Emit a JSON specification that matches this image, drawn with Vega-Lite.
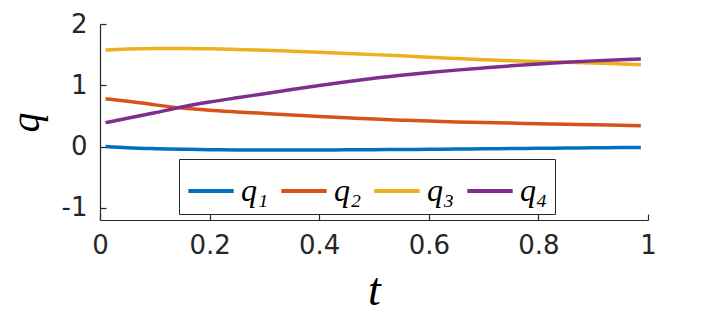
{
  "$schema": "https://vega.github.io/schema/vega-lite/v6.json",
  "width": 548,
  "height": 196,
  "autosize": {"type": "none"},
  "padding": {"left": 100, "top": 24, "right": 66, "bottom": 100},
  "background": "white",
  "config": {
    "view": {"stroke": null},
    "axis": {
      "grid": false,
      "domainColor": "#262626",
      "domainWidth": 1.2,
      "tickColor": "#262626",
      "tickWidth": 1.2,
      "tickSize": -6,
      "labelColor": "#262626",
      "labelFont": "DejaVu Sans",
      "labelFontSize": 26,
      "titleColor": "#000000",
      "titleFont": "Liberation Serif",
      "titleFontStyle": "italic",
      "titleFontWeight": "normal",
      "titleFontSize": 46
    }
  },
  "data": {
    "values": [
      {"t": 0.01, "q": 0.0, "s": "q1"},
      {"t": 0.05, "q": -0.02, "s": "q1"},
      {"t": 0.1, "q": -0.035, "s": "q1"},
      {"t": 0.15, "q": -0.045, "s": "q1"},
      {"t": 0.2, "q": -0.052, "s": "q1"},
      {"t": 0.25, "q": -0.056, "s": "q1"},
      {"t": 0.3, "q": -0.058, "s": "q1"},
      {"t": 0.35, "q": -0.058, "s": "q1"},
      {"t": 0.4, "q": -0.057, "s": "q1"},
      {"t": 0.45, "q": -0.055, "s": "q1"},
      {"t": 0.5, "q": -0.052, "s": "q1"},
      {"t": 0.55, "q": -0.049, "s": "q1"},
      {"t": 0.6, "q": -0.045, "s": "q1"},
      {"t": 0.65, "q": -0.041, "s": "q1"},
      {"t": 0.7, "q": -0.037, "s": "q1"},
      {"t": 0.75, "q": -0.033, "s": "q1"},
      {"t": 0.8, "q": -0.029, "s": "q1"},
      {"t": 0.85, "q": -0.025, "s": "q1"},
      {"t": 0.9, "q": -0.021, "s": "q1"},
      {"t": 0.95, "q": -0.018, "s": "q1"},
      {"t": 0.987, "q": -0.016, "s": "q1"},
      {"t": 0.01, "q": 0.78, "s": "q2"},
      {"t": 0.05, "q": 0.74, "s": "q2"},
      {"t": 0.1, "q": 0.68, "s": "q2"},
      {"t": 0.15, "q": 0.628, "s": "q2"},
      {"t": 0.2, "q": 0.592, "s": "q2"},
      {"t": 0.25, "q": 0.565, "s": "q2"},
      {"t": 0.3, "q": 0.54, "s": "q2"},
      {"t": 0.35, "q": 0.515, "s": "q2"},
      {"t": 0.4, "q": 0.49, "s": "q2"},
      {"t": 0.45, "q": 0.468, "s": "q2"},
      {"t": 0.5, "q": 0.447, "s": "q2"},
      {"t": 0.55, "q": 0.43, "s": "q2"},
      {"t": 0.6, "q": 0.415, "s": "q2"},
      {"t": 0.65, "q": 0.402, "s": "q2"},
      {"t": 0.7, "q": 0.392, "s": "q2"},
      {"t": 0.75, "q": 0.382, "s": "q2"},
      {"t": 0.8, "q": 0.372, "s": "q2"},
      {"t": 0.85, "q": 0.363, "s": "q2"},
      {"t": 0.9, "q": 0.355, "s": "q2"},
      {"t": 0.95, "q": 0.347, "s": "q2"},
      {"t": 0.987, "q": 0.34, "s": "q2"},
      {"t": 0.01, "q": 1.575, "s": "q3"},
      {"t": 0.05, "q": 1.59, "s": "q3"},
      {"t": 0.1, "q": 1.6, "s": "q3"},
      {"t": 0.15, "q": 1.6, "s": "q3"},
      {"t": 0.2, "q": 1.595, "s": "q3"},
      {"t": 0.25, "q": 1.585, "s": "q3"},
      {"t": 0.3, "q": 1.572, "s": "q3"},
      {"t": 0.35, "q": 1.557, "s": "q3"},
      {"t": 0.4, "q": 1.54, "s": "q3"},
      {"t": 0.45, "q": 1.52, "s": "q3"},
      {"t": 0.5, "q": 1.5, "s": "q3"},
      {"t": 0.55, "q": 1.48, "s": "q3"},
      {"t": 0.6, "q": 1.458, "s": "q3"},
      {"t": 0.65, "q": 1.436, "s": "q3"},
      {"t": 0.7, "q": 1.417, "s": "q3"},
      {"t": 0.75, "q": 1.401, "s": "q3"},
      {"t": 0.8, "q": 1.389, "s": "q3"},
      {"t": 0.85, "q": 1.377, "s": "q3"},
      {"t": 0.9, "q": 1.362, "s": "q3"},
      {"t": 0.95, "q": 1.347, "s": "q3"},
      {"t": 0.987, "q": 1.335, "s": "q3"},
      {"t": 0.01, "q": 0.39, "s": "q4"},
      {"t": 0.05, "q": 0.46, "s": "q4"},
      {"t": 0.1, "q": 0.55, "s": "q4"},
      {"t": 0.15, "q": 0.645, "s": "q4"},
      {"t": 0.2, "q": 0.725, "s": "q4"},
      {"t": 0.25, "q": 0.795, "s": "q4"},
      {"t": 0.3, "q": 0.862, "s": "q4"},
      {"t": 0.35, "q": 0.93, "s": "q4"},
      {"t": 0.4, "q": 0.995, "s": "q4"},
      {"t": 0.45, "q": 1.058, "s": "q4"},
      {"t": 0.5, "q": 1.115, "s": "q4"},
      {"t": 0.55, "q": 1.162, "s": "q4"},
      {"t": 0.6, "q": 1.207, "s": "q4"},
      {"t": 0.65, "q": 1.247, "s": "q4"},
      {"t": 0.7, "q": 1.283, "s": "q4"},
      {"t": 0.75, "q": 1.317, "s": "q4"},
      {"t": 0.8, "q": 1.348, "s": "q4"},
      {"t": 0.85, "q": 1.375, "s": "q4"},
      {"t": 0.9, "q": 1.398, "s": "q4"},
      {"t": 0.95, "q": 1.417, "s": "q4"},
      {"t": 0.987, "q": 1.43, "s": "q4"}
    ]
  },
  "mark": {"type": "line", "strokeWidth": 3.5, "interpolate": "monotone"},
  "encoding": {
    "x": {
      "field": "t",
      "type": "quantitative",
      "scale": {"domain": [0, 1], "nice": false},
      "axis": {
        "values": [0, 0.2, 0.4, 0.6, 0.8, 1],
        "format": "~g",
        "labelFlush": false,
        "labelPadding": 18,
        "title": "t",
        "titleX": 274,
        "titleY": 84,
        "titleBaseline": "alphabetic"
      }
    },
    "y": {
      "field": "q",
      "type": "quantitative",
      "scale": {"domain": [-1.2, 2], "nice": false, "zero": false},
      "axis": {
        "values": [-1, 0, 1, 2],
        "labelExpr": "replace(datum.label, '\u2212', '-')",
        "labelFlush": false,
        "labelPadding": 19,
        "title": "q",
        "titleFontSize": 40,
        "titleX": -62,
        "titleY": 98,
        "titleAngle": -90,
        "titleBaseline": "alphabetic",
        "titleAlign": "center"
      }
    },
    "color": {
      "field": "s",
      "type": "nominal",
      "scale": {
        "domain": ["q1", "q2", "q3", "q4"],
        "range": ["#0072BD", "#D95319", "#EDB120", "#7E2F8E"]
      },
      "legend": {
        "orient": "none",
        "legendX": 79,
        "legendY": 135,
        "direction": "horizontal",
        "columns": 4,
        "title": null,
        "labelExpr": "datum.label == 'q1' ? 'q\u2081' : datum.label == 'q2' ? 'q\u2082' : datum.label == 'q3' ? 'q\u2083' : 'q\u2084'",
        "symbolType": "stroke",
        "symbolSize": 2060,
        "symbolStrokeWidth": 4,
        "labelOffset": 5,
        "columnPadding": 4,
        "padding": 7,
        "strokeColor": "#262626",
        "fillColor": "white",
        "labelFont": "Liberation Serif",
        "labelFontStyle": "italic",
        "labelFontSize": 32,
        "labelColor": "#000000",
        "labelLimit": 0
      }
    }
  }
}
